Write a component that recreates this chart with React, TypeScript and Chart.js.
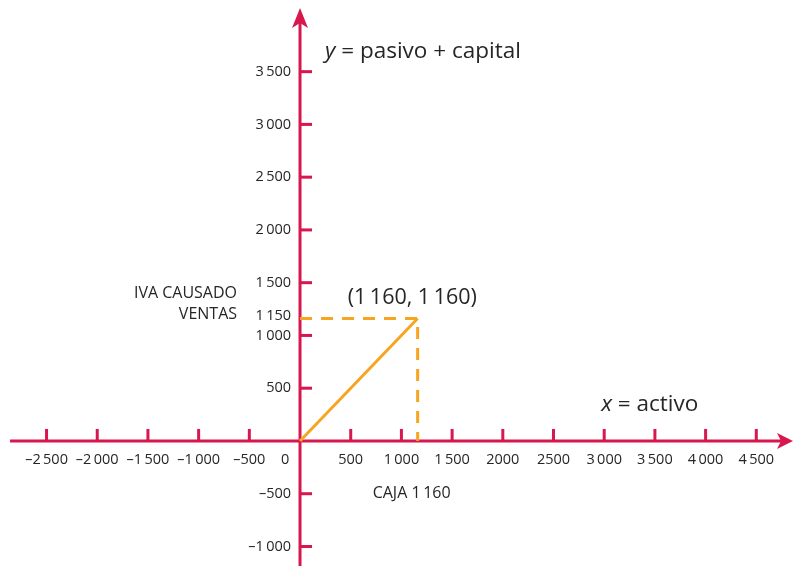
import React, { useEffect, useRef } from "react";
import { Chart, registerables } from "chart.js";

Chart.register(...registerables);

const T = "\u2009";
const X_TICKS = [-2500, -2000, -1500, -1000, -500, 500, 1000, 1500, 2000, 2500, 3000, 3500, 4000, 4500];
const X_TICK_LABELS = [
  `–2${T}500`, `–2${T}000`, `–1${T}500`, `–1${T}000`, "–500",
  "500", `1${T}000`, `1${T}500`, "2000", "2500", `3${T}000`, `3${T}500`, `4${T}000`, `4${T}500`,
];
const Y_TICKS = [-1000, -500, 500, 1000, 1500, 2000, 2500, 3000, 3500];
const Y_TICK_LABELS = [`–1${T}000`, "–500", "500", `1${T}000`, `1${T}500`, `2${T}000`, `2${T}500`, `3${T}000`, `3${T}500`];
const Y_EXTRA_VALUE = 1150;
const Y_EXTRA_LABEL = `1${T}150`;
const ORIGIN_LABEL = "0";

const SOLID_X = [0, 1160];
const SOLID_Y = [0, 1160];
const DASH_X = [0, 1160, 1160];
const DASH_Y = [1160, 1160, 0];

const POINT_LABEL = `(1${T}160, 1${T}160)`;
const X_AXIS_TITLE = "activo";
const Y_AXIS_TITLE = "pasivo + capital";
const LEFT_NOTE = ["IVA CAUSADO", "VENTAS"];
const BOTTOM_NOTE = `CAJA 1${T}160`;

const X_MIN = -2959;
const X_MAX = 4862;
const Y_MIN = -1185;
const Y_MAX = 4179;
const X_AXIS_FROM = -2860;
const Y_AXIS_TO = 4103;

const RED = "#d8174f";
const ORANGE = "#f7a521";
const TEXT = "#262626";
const FONT = "'Open Sans', sans-serif";

const axesPlugin = {
  id: "customAxes",
  beforeDatasetsDraw(chart: any) {
    const ctx = chart.ctx as CanvasRenderingContext2D;
    const xs = chart.scales.x;
    const ys = chart.scales.y;
    const ox = xs.getPixelForValue(0);
    const oy = ys.getPixelForValue(0);
    const xl = xs.getPixelForValue(X_AXIS_FROM);
    const xr = xs.getPixelForValue(X_MAX);
    const yb = ys.getPixelForValue(Y_MIN);
    const yt = ys.getPixelForValue(Y_AXIS_TO);
    ctx.save();
    ctx.strokeStyle = RED;
    ctx.fillStyle = RED;
    ctx.lineWidth = 3;
    ctx.lineCap = "butt";
    ctx.beginPath();
    ctx.moveTo(xl, oy);
    ctx.lineTo(xr - 10, oy);
    ctx.stroke();
    ctx.beginPath();
    ctx.moveTo(ox, yb);
    ctx.lineTo(ox, yt + 12);
    ctx.stroke();
    ctx.beginPath();
    ctx.moveTo(xr, oy);
    ctx.lineTo(xr - 16, oy - 8);
    ctx.lineTo(xr - 12, oy);
    ctx.lineTo(xr - 16, oy + 8);
    ctx.closePath();
    ctx.fill();
    ctx.beginPath();
    ctx.moveTo(ox, yt);
    ctx.lineTo(ox - 8, yt + 20);
    ctx.lineTo(ox, yt + 15);
    ctx.lineTo(ox + 8, yt + 20);
    ctx.closePath();
    ctx.fill();
    X_TICKS.forEach((v) => {
      const px = xs.getPixelForValue(v);
      ctx.beginPath();
      ctx.moveTo(px, oy);
      ctx.lineTo(px, oy - 12);
      ctx.stroke();
    });
    Y_TICKS.forEach((v) => {
      const py = ys.getPixelForValue(v);
      ctx.beginPath();
      ctx.moveTo(ox, py);
      ctx.lineTo(ox + 12, py);
      ctx.stroke();
    });
    ctx.restore();
  },
  afterDatasetsDraw(chart: any) {
    const ctx = chart.ctx as CanvasRenderingContext2D;
    const xs = chart.scales.x;
    const ys = chart.scales.y;
    const ox = xs.getPixelForValue(0);
    const oy = ys.getPixelForValue(0);
    ctx.save();
    ctx.fillStyle = TEXT;
    ctx.textBaseline = "middle";
    ctx.font = `14.5px ${FONT}`;
    ctx.textAlign = "center";
    X_TICKS.forEach((v, i) => {
      ctx.fillText(X_TICK_LABELS[i], xs.getPixelForValue(v), oy + 19);
    });
    ctx.fillText(ORIGIN_LABEL, ox - 15, oy + 19);
    ctx.textAlign = "right";
    Y_TICKS.forEach((v, i) => {
      ctx.fillText(Y_TICK_LABELS[i], ox - 9, ys.getPixelForValue(v));
    });
    ctx.fillText(Y_EXTRA_LABEL, ox - 9, ys.getPixelForValue(Y_EXTRA_VALUE) - 4);
    ctx.font = `16px ${FONT}`;
    ctx.fillText(LEFT_NOTE[0], ox - 63, ys.getPixelForValue(Y_EXTRA_VALUE) - 26);
    ctx.fillText(LEFT_NOTE[1], ox - 63, ys.getPixelForValue(Y_EXTRA_VALUE) - 5);
    ctx.textAlign = "left";
    ctx.fillText(BOTTOM_NOTE, xs.getPixelForValue(SOLID_X[1]) - 45, ys.getPixelForValue(-500));
    ctx.font = `21.5px ${FONT}`;
    ctx.fillText(POINT_LABEL, xs.getPixelForValue(SOLID_X[1]) - 70, ys.getPixelForValue(SOLID_Y[1]) - 21);
    const drawTitle = (v: string, rest: string, x: number, y: number) => {
      ctx.font = `italic 22.5px ${FONT}`;
      ctx.fillText(v, x, y);
      const w = ctx.measureText(v).width;
      ctx.font = `22.5px ${FONT}`;
      ctx.fillText(` = ${rest}`, x + w, y);
    };
    drawTitle("y", Y_AXIS_TITLE, ox + 25, ys.getPixelForValue(Y_AXIS_TO) + 44);
    drawTitle("x", X_AXIS_TITLE, xs.getPixelForValue(3000) - 3, oy - 36);
    ctx.restore();
  },
};

export default function App() {
  const ref = useRef<HTMLCanvasElement | null>(null);
  useEffect(() => {
    if (!ref.current) return;
    const chart = new Chart(ref.current, {
      type: "scatter",
      data: {
        datasets: [
          {
            data: SOLID_X.map((x, i) => ({ x, y: SOLID_Y[i] })),
            showLine: true,
            borderColor: ORANGE,
            borderWidth: 3,
            pointRadius: 0,
          },
          {
            data: DASH_X.map((x, i) => ({ x, y: DASH_Y[i] })),
            showLine: true,
            borderColor: ORANGE,
            borderWidth: 3,
            borderDash: [12, 9],
            pointRadius: 0,
          },
        ],
      },
      options: {
        animation: false,
        responsive: false,
        devicePixelRatio: 1,
        layout: { padding: 0 },
        plugins: { legend: { display: false }, tooltip: { enabled: false } },
        scales: {
          x: { type: "linear", min: X_MIN, max: X_MAX, display: false },
          y: { type: "linear", min: Y_MIN, max: Y_MAX, display: false },
        },
      },
      plugins: [axesPlugin],
    });
    return () => chart.destroy();
  }, []);
  return (
    <div style={{ position: "fixed", left: 0, top: 0, width: 793, height: 566, background: "#fff" }}>
      <canvas ref={ref} width={793} height={566} />
    </div>
  );
}
